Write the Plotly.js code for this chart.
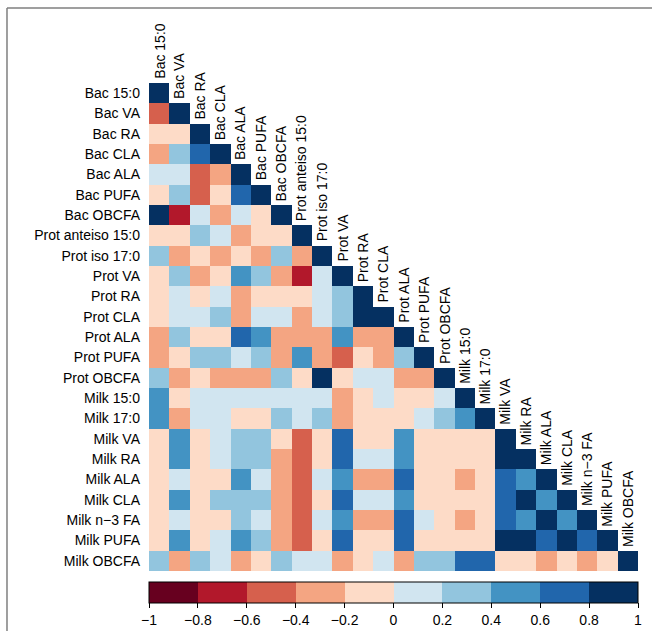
<!DOCTYPE html>
<html>
<head>
<meta charset="utf-8">
<script src="https://cdn.plot.ly/plotly-3.0.1.min.js"></script>
<style>html,body{margin:0;padding:0;background:#fff;}#chart{width:652px;height:631px;}</style>
</head>
<body>
<div id="chart"></div>
<script>
const labels = ["Bac 15:0","Bac VA","Bac RA","Bac CLA","Bac ALA","Bac PUFA","Bac OBCFA",
  "Prot anteiso 15:0","Prot iso 17:0","Prot VA","Prot RA","Prot CLA","Prot ALA","Prot PUFA","Prot OBCFA",
  "Milk 15:0","Milk 17:0","Milk VA","Milk RA","Milk ALA","Milk CLA","Milk n\u22123 FA","Milk PUFA","Milk OBCFA"];

// lower-triangle correlations (row i has i+1 values)
const r0 = [1];
const r1 = [-0.5, 1];
const r2 = [-0.1, -0.1, 1];
const r3 = [-0.3, 0.3, 0.7, 1];
const r4 = [0.1, 0.1, -0.5, -0.3, 1];
const r5 = [-0.1, 0.3, -0.5, -0.1, 0.7, 1];
const r6 = [0.9, -0.7, 0.1, -0.3, 0.1, -0.1, 1];
const r7 = [-0.1, -0.1, 0.3, 0.1, -0.3, -0.1, -0.1, 1];
const r8 = [0.3, -0.3, -0.1, -0.3, -0.1, -0.3, 0.3, -0.3, 1];
const r9 = [-0.1, 0.3, -0.3, -0.1, 0.5, 0.3, -0.3, -0.7, 0.1, 1];
const r10 = [-0.1, 0.1, -0.1, 0.1, -0.3, -0.1, -0.1, -0.1, 0.1, 0.3, 1];
const r11 = [-0.1, 0.1, 0.1, 0.3, -0.3, 0.1, 0.1, -0.3, 0.1, 0.3, 0.9, 1];
const r12 = [-0.3, 0.3, -0.1, -0.1, 0.7, 0.5, -0.3, -0.3, -0.3, 0.5, -0.3, -0.3, 1];
const r13 = [-0.3, -0.1, 0.3, 0.3, 0.1, 0.3, -0.3, 0.5, -0.3, -0.5, -0.1, -0.3, 0.3, 1];
const r14 = [0.3, -0.3, -0.1, -0.3, -0.3, -0.3, 0.3, -0.1, 0.9, -0.1, 0.1, 0.1, -0.3, -0.3, 1];
const r15 = [0.5, -0.1, 0.1, 0.1, 0.1, 0.1, 0.1, 0.1, 0.1, -0.3, -0.1, 0.1, -0.1, -0.1, 0.1, 1];
const r16 = [0.5, -0.3, 0.1, 0.1, -0.1, -0.1, 0.3, 0.1, 0.3, -0.3, -0.1, -0.1, -0.1, 0.1, 0.3, 0.5, 1];
const r17 = [-0.1, 0.5, -0.1, 0.1, 0.3, 0.3, -0.1, -0.5, -0.1, 0.7, -0.1, -0.1, 0.5, -0.1, -0.1, -0.1, -0.1, 1];
const r18 = [-0.1, 0.5, -0.1, 0.1, 0.3, 0.3, -0.3, -0.5, -0.1, 0.7, 0.1, 0.1, 0.5, -0.1, -0.1, -0.1, -0.1, 0.9, 1];
const r19 = [-0.1, 0.1, -0.1, -0.1, 0.5, 0.1, -0.3, -0.5, 0.1, 0.5, -0.3, -0.3, 0.7, -0.1, -0.1, -0.3, -0.1, 0.7, 0.5, 1];
const r20 = [-0.1, 0.5, -0.1, 0.3, 0.3, 0.3, -0.3, -0.5, -0.1, 0.7, 0.1, 0.1, 0.5, -0.1, -0.1, -0.1, -0.1, 0.7, 0.9, 0.5, 1];
const r21 = [-0.1, 0.1, -0.1, -0.1, 0.3, 0.1, -0.3, -0.5, 0.1, 0.5, -0.3, -0.3, 0.7, 0.1, -0.1, -0.3, -0.1, 0.7, 0.5, 0.9, 0.5, 1];
const r22 = [-0.1, 0.5, -0.1, 0.1, 0.5, 0.3, -0.3, -0.5, -0.1, 0.7, -0.1, -0.1, 0.7, -0.1, -0.1, -0.1, -0.1, 0.9, 0.9, 0.7, 0.9, 0.7, 1];
const r23 = [0.3, -0.3, 0.3, 0.1, -0.3, -0.1, 0.3, 0.1, 0.1, -0.3, -0.1, 0.1, -0.3, 0.3, 0.3, 0.7, 0.7, -0.1, -0.1, -0.3, -0.1, -0.3, -0.1, 1];

const binColors = ["#67001f","#b2182b","#d6604d","#f4a582","#fddbc7","#d1e5f0","#92c5de","#4393c3","#2166ac","#053061"];
const cbTicks = [-1,-0.8,-0.6,-0.4,-0.2,0,0.2,0.4,0.6,0.8,1];

const rows = [r0,r1,r2,r3,r4,r5,r6,r7,r8,r9,r10,r11,r12,r13,r14,r15,r16,r17,r18,r19,r20,r21,r22,r23];
const n = labels.length;
const z = rows.map(r => { const a = r.slice(); while (a.length < n) a.push(null); return a; });
const idx = labels.map((_, i) => i);

const colorscale = [];
binColors.forEach((c, k) => { colorscale.push([k / 10, c]); colorscale.push([(k + 1) / 10, c]); });

const FONT = '"Liberation Sans", Arial, sans-serif';

const trace = {
  type: 'heatmap', z: z, x: idx, y: idx,
  zmin: -1, zmax: 1, colorscale: colorscale, hoverongaps: false,
  colorbar: {
    orientation: 'h', x: 0, xanchor: 'left', len: 1, lenmode: 'fraction',
    y: -0.0225, yanchor: 'top', thickness: 21, xpad: 0, ypad: 0,
    outlinewidth: 1, outlinecolor: '#000', borderwidth: 0,
    ticks: 'outside', ticklen: 5, tickwidth: 1, tickcolor: '#000',
    tickvals: cbTicks, tickfont: {family: FONT, size: 14, color: '#000'}
  }
};

const annotations = labels.map((t, j) => ({
  x: j, y: j - 0.5, xref: 'x', yref: 'y', text: t, showarrow: false,
  textangle: -90, xanchor: 'center', yanchor: 'bottom', yshift: 2,
  font: {family: FONT, size: 14, color: '#000'}
}));

const layout = {
  width: 652, height: 631,
  margin: {l: 149, r: 14, t: 83, b: 60, pad: 0, autoexpand: false},
  paper_bgcolor: '#fff', plot_bgcolor: '#fff',
  font: {family: FONT, size: 14, color: '#000'},
  xaxis: {range: [-0.5, n - 0.5], visible: false, showgrid: false, zeroline: false, fixedrange: true},
  yaxis: {range: [n - 0.5, -0.5], tickvals: idx, ticktext: labels, showgrid: false, zeroline: false,
          ticks: '', ticklabelstandoff: 8, automargin: false,
          tickfont: {family: FONT, size: 14, color: '#000'}, fixedrange: true},
  annotations: annotations,
  shapes: [
    {type: 'line', xref: 'paper', yref: 'paper', x0: -0.2904, x1: -0.2904, y0: -0.3, y1: 1.1537,
     line: {color: '#7f7f7f', width: 1.5}},
    {type: 'line', xref: 'paper', yref: 'paper', x0: -0.2904, x1: 1.2, y0: 1.1537, y1: 1.1537,
     line: {color: '#7f7f7f', width: 1.5}}
  ],
  showlegend: false
};

Plotly.newPlot('chart', [trace], layout, {displayModeBar: false, staticPlot: true});
</script>
</body>
</html>
